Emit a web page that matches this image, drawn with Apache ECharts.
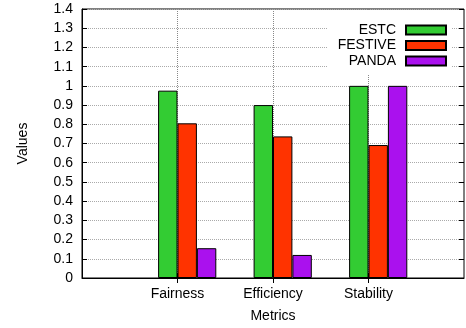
<!DOCTYPE html>
<html>
<head>
<meta charset="utf-8">
<script src="https://cdn.jsdelivr.net/npm/echarts@6/dist/echarts.min.js"></script>
<style>
  html, body { margin: 0; padding: 0; background: #fff; }
  #chart { width: 466px; height: 328px; }
</style>
</head>
<body>
<div id="chart"></div>
<script>
// Metric categories; empty slots pad the axis ends like a -1..3 range
const categories = ['', 'Fairness', 'Efficiency', 'Stability', ''];
const yTicks = { min: 0, max: 1.4, step: 0.1 };

const estc    = [null, 0.975, 0.90, 1.00, null];
const festive = [null, 0.805, 0.737, 0.692, null];
const panda   = [null, 0.155, 0.12, 1.00, null];

const FONT = 'Liberation Sans, Arial, Helvetica, sans-serif';
const chart = echarts.init(document.getElementById('chart'), null, { renderer: 'canvas' });

const midOnly = (i) => i > 0 && i < categories.length - 1;

const barBase = {
  type: 'bar',
  barWidth: 19.4,
  barGap: '0%',
  xAxisIndex: 0,
  yAxisIndex: 0
};

chart.setOption({
  animation: false,
  backgroundColor: '#fff',
  textStyle: { fontFamily: FONT, color: '#000' },
  grid: {
    left: 82, right: 2, top: 9, bottom: 47,
    show: true, borderColor: '#000', borderWidth: 1, backgroundColor: 'transparent'
  },
  legend: {
    data: ['ESTC', 'FESTIVE', 'PANDA'],
    orient: 'vertical',
    align: 'right',
    right: 14,
    top: 10,
    padding: [13, 5, 6, 10],
    backgroundColor: '#fff',
    icon: 'rect',
    itemWidth: 40,
    itemHeight: 9,
    itemGap: 1.5,
    textStyle: { fontFamily: FONT, fontSize: 14, color: '#000', padding: [0, 5, 0, 0] }
  },
  xAxis: [
    {
      type: 'category',
      data: categories,
      boundaryGap: false,
      position: 'bottom',
      name: 'Metrics',
      nameLocation: 'middle',
      nameGap: 31,
      nameTextStyle: { fontFamily: FONT, fontSize: 14, color: '#000' },
      axisLine: { show: true, lineStyle: { color: '#000', width: 1 } },
      axisTick: { show: true, inside: true, length: 5, interval: midOnly, lineStyle: { color: '#000' } },
      axisLabel: { fontFamily: FONT, fontSize: 14, color: '#000', margin: 9, interval: midOnly },
      splitLine: { show: true, interval: midOnly, lineStyle: { color: '#888', type: 'dotted', width: 1 } }
    },
    {
      type: 'category',
      data: categories,
      boundaryGap: false,
      position: 'top',
      axisLine: { show: false },
      axisTick: { show: true, inside: true, length: 5, interval: midOnly, lineStyle: { color: '#000' } },
      axisLabel: { show: false },
      splitLine: { show: false }
    }
  ],
  yAxis: [
    {
      type: 'value',
      min: yTicks.min, max: yTicks.max, interval: yTicks.step,
      name: 'Values',
      nameLocation: 'middle',
      nameGap: 52,
      nameTextStyle: { fontFamily: FONT, fontSize: 14, color: '#000' },
      axisLine: { show: true, lineStyle: { color: '#000', width: 1 } },
      axisTick: { show: true, inside: true, length: 5, lineStyle: { color: '#000' } },
      axisLabel: { fontFamily: FONT, fontSize: 14, color: '#000', margin: 9 },
      splitLine: { show: true, lineStyle: { color: '#aaa', type: 'dotted', width: 1 } }
    },
    {
      type: 'value',
      position: 'right',
      min: yTicks.min, max: yTicks.max, interval: yTicks.step,
      axisLine: { show: false },
      axisTick: { show: true, inside: true, length: 5, lineStyle: { color: '#000' } },
      axisLabel: { show: false },
      splitLine: { show: false }
    }
  ],
  series: [
    // empty leading slot so each cluster starts at its category tick
    Object.assign({}, barBase, { name: '_slot', data: categories.map(() => null), silent: true }),
    Object.assign({}, barBase, {
      name: 'ESTC', data: estc,
      itemStyle: { color: '#33cc33', borderColor: '#000', borderWidth: 1 }
    }),
    Object.assign({}, barBase, {
      name: 'FESTIVE', data: festive,
      itemStyle: { color: '#ff3300', borderColor: '#000', borderWidth: 1 }
    }),
    Object.assign({}, barBase, {
      name: 'PANDA', data: panda,
      itemStyle: { color: '#aa11ee', borderColor: '#000', borderWidth: 1 }
    })
  ]
});
</script>
</body>
</html>
